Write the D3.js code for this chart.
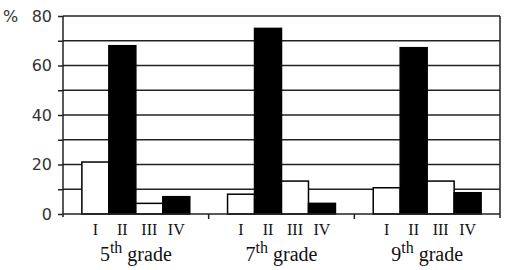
<!DOCTYPE html>
<html>
<head>
<meta charset="utf-8">
<script src="https://cdn.jsdelivr.net/npm/d3@7"></script>
<style>
  body { margin: 0; background: #fff; }
  svg { display: block; }
  .serif { font-family: "Liberation Serif", "DejaVu Serif", "Times New Roman", serif; }
</style>
</head>
<body>
<div id="chart"></div>
<script>
const grades = ['5', '7', '9'];
const types = ['I', 'II', 'III', 'IV'];
const valuesI = [21, 8, 10.6];
const valuesII = [68, 75, 67.2];
const valuesIII = [4.3, 13.3, 13.3];
const valuesIV = [7, 4.3, 8.6];
const yTicks = [0, 20, 40, 60, 80];
const gridTicks = [10, 20, 30, 40, 50, 60, 70, 80];

const width = 516, height = 270;
const margin = { top: 16, right: 16, bottom: 56, left: 63 };
const chartW = width - margin.left - margin.right;
const chartH = height - margin.top - margin.bottom;

const series = [valuesI, valuesII, valuesIII, valuesIV];
const data = grades.map((g, gi) => ({
  grade: g,
  bars: types.map((t, ti) => ({ type: t, value: series[ti][gi] }))
}));

const svg = d3.select('#chart').append('svg')
  .attr('width', width)
  .attr('height', height);

const chart = svg.append('g')
  .attr('transform', 'translate(' + margin.left + ',' + margin.top + ')');

const x0 = d3.scaleBand().domain(grades).range([0, chartW]).padding(0);
const x1 = d3.scaleBand().domain(types).range([0, x0.bandwidth()])
  .paddingInner(0).paddingOuter(0.7);
const y = d3.scaleLinear().domain([0, 80]).range([chartH, 0]);

// Grid lines
chart.append('g')
  .selectAll('line')
  .data(gridTicks)
  .join('line')
  .attr('x1', 0)
  .attr('x2', chartW)
  .attr('y1', d => y(d))
  .attr('y2', d => y(d))
  .attr('stroke', '#222')
  .attr('stroke-width', 1.5);

// Right border
chart.append('line')
  .attr('x1', chartW).attr('x2', chartW)
  .attr('y1', 0).attr('y2', chartH + 4)
  .attr('stroke', '#222')
  .attr('stroke-width', 1.5);

// Bars
const groups = chart.selectAll('.grp')
  .data(data)
  .join('g')
  .attr('class', 'grp')
  .attr('transform', d => 'translate(' + x0(d.grade) + ',0)');

groups.selectAll('rect')
  .data(d => d.bars)
  .join('rect')
  .attr('x', d => x1(d.type))
  .attr('y', d => y(d.value))
  .attr('width', x1.bandwidth())
  .attr('height', d => chartH - y(d.value))
  .attr('fill', d => (d.type === 'II' || d.type === 'IV') ? '#000' : '#fff')
  .attr('stroke', '#000')
  .attr('stroke-width', 1.5);

// Roman numerals
groups.selectAll('.type-label')
  .data(d => d.bars)
  .join('text')
  .attr('class', 'type-label serif')
  .attr('x', d => x1(d.type) + x1.bandwidth() / 2)
  .attr('y', chartH + 21)
  .attr('text-anchor', 'middle')
  .attr('fill', '#111')
  .style('font-size', '16px')
  .text(d => d.type);

// Grade labels
const gl = groups.append('text')
  .attr('class', 'serif')
  .attr('x', x0.bandwidth() / 2)
  .attr('y', chartH + 47)
  .attr('text-anchor', 'middle')
  .attr('fill', '#111')
  .style('font-size', '20px');
gl.append('tspan').attr('class', 'serif').text(d => d.grade);
gl.append('tspan').attr('class', 'serif').attr('dy', -8).style('font-size', '16px').text('th');
gl.append('tspan').attr('class', 'serif').attr('dy', 8).text(' grade');

// X axis
const xAxis = chart.append('g')
  .attr('transform', 'translate(0,' + chartH + ')');
xAxis.append('line')
  .attr('x1', 0).attr('x2', chartW)
  .attr('stroke', '#222').attr('stroke-width', 1.5);
xAxis.selectAll('.xtick')
  .data(grades.slice(1))
  .join('line')
  .attr('class', 'xtick')
  .attr('x1', d => x0(d)).attr('x2', d => x0(d))
  .attr('y1', 0).attr('y2', 5)
  .attr('stroke', '#222').attr('stroke-width', 1.5);

// Y axis
const yAxis = chart.append('g')
  .call(d3.axisLeft(y).tickValues(d3.range(0, 81, 10)).tickSize(5)
    .tickFormat(d => yTicks.includes(d) ? d : ''));
yAxis.select('.domain').remove();
yAxis.selectAll('.tick line').attr('stroke', '#222').attr('stroke-width', 1.5);
yAxis.selectAll('.tick text')
  .attr('x', -11)
  .attr('fill', '#333')
  .style('font-family', '"DejaVu Sans", Verdana, sans-serif')
  .style('font-size', '16px');
yAxis.append('line')
  .attr('x1', 0).attr('x2', 0)
  .attr('y1', 0).attr('y2', chartH + 3)
  .attr('stroke', '#222').attr('stroke-width', 1.5);

svg.append('text')
  .attr('x', 3)
  .attr('y', margin.top + 6)
  .attr('fill', '#333')
  .style('font-family', '"DejaVu Sans", Verdana, sans-serif')
  .style('font-size', '16px')
  .text('%');
</script>
</body>
</html>
